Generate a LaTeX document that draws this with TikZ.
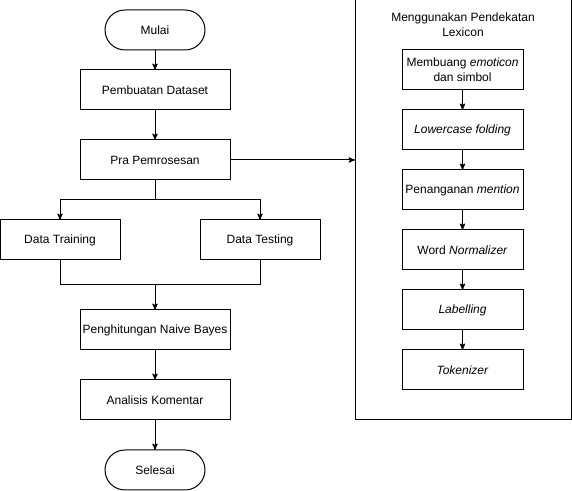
\documentclass[tikz,border=0pt]{standalone}
\usepackage{fontspec}
\setmainfont{Liberation Sans}
\usetikzlibrary{arrows,positioning}

\begin{document}
\begin{tikzpicture}[>=stealth',line width=0.75pt,node distance=15pt,font=\fontsize{9pt}{11.25pt}\selectfont,
		every node/.style={align=center,inner sep=0pt,outer sep=0pt},
		terminal/.style={draw,rounded corners=15pt,minimum width=75pt,minimum height=30pt},
		proses/.style={draw,minimum width=112.5pt,minimum height=30pt},
		data/.style={draw,minimum width=90pt,minimum height=30pt},
		langkah/.style={draw,minimum width=90.75pt,minimum height=30pt}]
		\useasboundingbox (0,0) rectangle (429pt,-368.25pt);

		 \node[terminal]         (mulai)    at (116.25pt,-22.5pt)            {Mulai};
		 \node[proses]           (dataset)  [below = of mulai]               {Pembuatan Dataset};
		 \node[proses]           (pra)      [below = 22.5pt of dataset]      {Pra Pemrosesan};
		 \node[data]             (training) at (45pt,-180pt)                 {Data Training};
		 \node[data]             (testing)  [right = 60pt of training]       {Data Testing};
		 \node[proses]           (naive)    [below = 97.5pt of pra]          {Penghitungan Naive Bayes};
		 \node[proses]           (analisis) [below = 22.5pt of naive]        {Analisis Komentar};
		 \node[terminal]         (selesai)  [below = 22.5pt of analisis]     {Selesai};

		 % kotak lexicon
		 \node[draw,minimum width=162pt,minimum height=315pt] (lexicon) at (347.25pt,-157.5pt) {};
		 \node                   (judul)    at (347.25pt,-18.75pt)           {Menggunakan Pendekatan\\Lexicon};
		 \node[langkah]          (emoticon) at (346.9pt,-52.5pt)             {Membuang \textit{emoticon}\\dan simbol};
		 \node[langkah]          (lower)    [below = of emoticon]            {\textit{Lowercase folding}};
		 \node[langkah]          (mention)  [below = of lower]               {Penanganan \textit{mention}};
		 \node[langkah]          (normal)   [below = of mention]             {Word \textit{Normalizer}};
		 \node[langkah]          (labelling) [below = of normal]             {\textit{Labelling}};
		 \node[langkah]          (token)    [below = of labelling]           {\textit{Tokenizer}};

		 \path[->]	(mulai)		edge	(dataset)
					(dataset)	edge	(pra)
					(naive)		edge	(analisis)
					(analisis)	edge	(selesai)
					(emoticon)	edge	(lower)
					(lower)		edge	(mention)
					(mention)	edge	(normal)
					(normal)	edge	(labelling)
					(labelling)	edge	(token);

		\draw	(pra.south) -- ++(0,-15pt) coordinate (cabang);
		\draw	[->]	(cabang) -| (training.north);
		\draw	[->]	(cabang) -| (testing.north);
		\draw	(training.south) -- ++(0,-18.75pt) coordinate (gabung) -| (testing.south);
		\draw	[->]	(gabung -| naive.north) -- (naive.north);
		\draw	[->]	(pra.east) -- (pra.east -| lexicon.west);
	\end{tikzpicture}
\end{document}
